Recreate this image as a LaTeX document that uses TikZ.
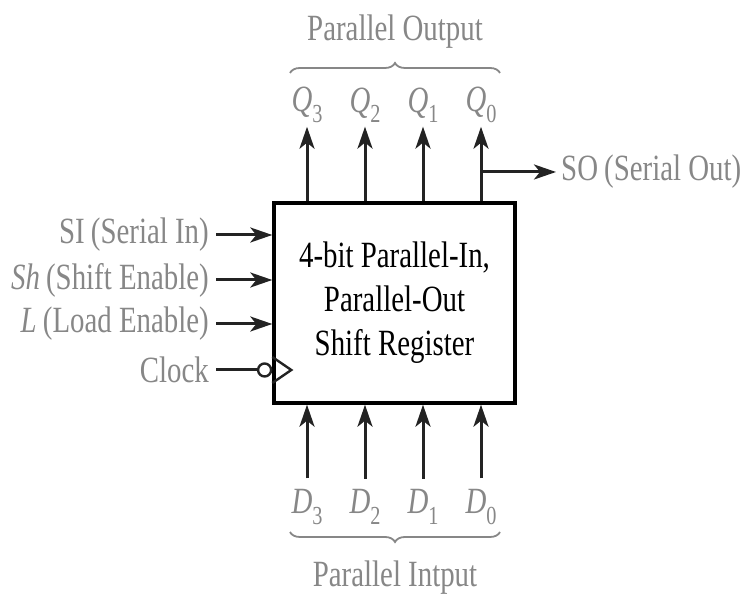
\documentclass[tikz,border=0pt]{standalone}
\usepackage{fontspec}
\setmainfont{Liberation Serif}[FakeStretch=0.78]
\usetikzlibrary{arrows.meta,decorations.pathreplacing}
\definecolor{labelgray}{RGB}{135,135,135}
\definecolor{wire}{RGB}{35,35,35}
\newcommand\lbl{\fontsize{37}{42}\selectfont}
\newcommand\idx[1]{\raisebox{-0.28em}{\fontsize{26}{26}\selectfont #1}}
\tikzset{
  sig/.style={text=labelgray, font=\lbl, inner sep=1pt},
  wirearrow/.style={draw=wire, line width=3pt,
    -{Stealth[length=22pt,width=15pt,inset=6pt]}},
  wireline/.style={draw=wire, line width=3pt},
  bracestyle/.style={draw=labelgray, line width=1.8pt, decorate,
    decoration={brace, amplitude=10pt}},
}
\begin{document}
\begin{tikzpicture}[x=1pt,y=1pt]
\useasboundingbox (0,0) rectangle (749,596);

% register block
\node[draw=black, line width=3.4pt, minimum width=241pt, minimum height=200pt,
      align=center, font=\fontsize{37}{44}\selectfont, inner sep=0pt] (box) at (394.5,293)
  {4-bit Parallel-In,\\Parallel-Out\\Shift Register};

% parallel outputs
\node[sig] (q3) at (307,491) {\textit{Q}\idx{3}};
\node[sig] (q2) at (365,491) {\textit{Q}\idx{2}};
\node[sig] (q1) at (423,491) {\textit{Q}\idx{1}};
\node[sig] (q0) at (481,491) {\textit{Q}\idx{0}};
\foreach \q in {q3,q2,q1,q0}
  \draw[wirearrow, shorten >=3pt] (box.north -| \q) -- (\q.south);

% serial output tapped from Q0
\coordinate (tap) at (481,424);
\node[sig, anchor=west] (so) at (560,424) {SO\,(Serial Out)};
\draw[wirearrow, shorten >=4pt] (tap) -- (so.west);

% serial and control inputs
\node[sig, anchor=east] (si) at (210,361) {SI\,(Serial In)};
\node[sig, anchor=east] (sh) at (210,316) {\textit{Sh}\,(Shift Enable)};
\node[sig, anchor=east] (ld) at (210,272) {\textit{L}\,(Load Enable)};
\node[sig, anchor=east] (clk) at (210,226) {Clock};
\foreach \s in {si,sh,ld}
  \draw[wirearrow, shorten <=6pt] (\s.east) -- (box.west |- \s.east);

% clock input with inversion bubble and edge marker
\node[circle, draw=wire, line width=2.4pt, minimum size=13pt, inner sep=0pt,
      anchor=east] (bubble) at (box.west |- clk.east) {};
\draw[wireline, shorten <=6pt] (clk.east) -- (bubble.west);
\draw[draw=wire, line width=2.4pt, line join=miter]
  ([yshift=13pt]box.west |- clk.east) -- ++(19,-13) -- ++(-19,-13);

% parallel inputs
\node[sig] (d3) at (307,89) {\textit{D}\idx{3}};
\node[sig] (d2) at (365,89) {\textit{D}\idx{2}};
\node[sig] (d1) at (423,89) {\textit{D}\idx{1}};
\node[sig] (d0) at (481,89) {\textit{D}\idx{0}};
\foreach \d in {d3,d2,d1,d0}
  \draw[wirearrow, shorten <=10pt] (\d.north) -- (box.south -| \d);

% group braces and captions
\draw[bracestyle] (290,523) -- (500,523);
\node[sig] (pout) at (395,564) {Parallel Output};
\draw[bracestyle] (500,64) -- (290,64);
\node[sig] (pin) at (395,18) {Parallel Intput};
\end{tikzpicture}
\end{document}
